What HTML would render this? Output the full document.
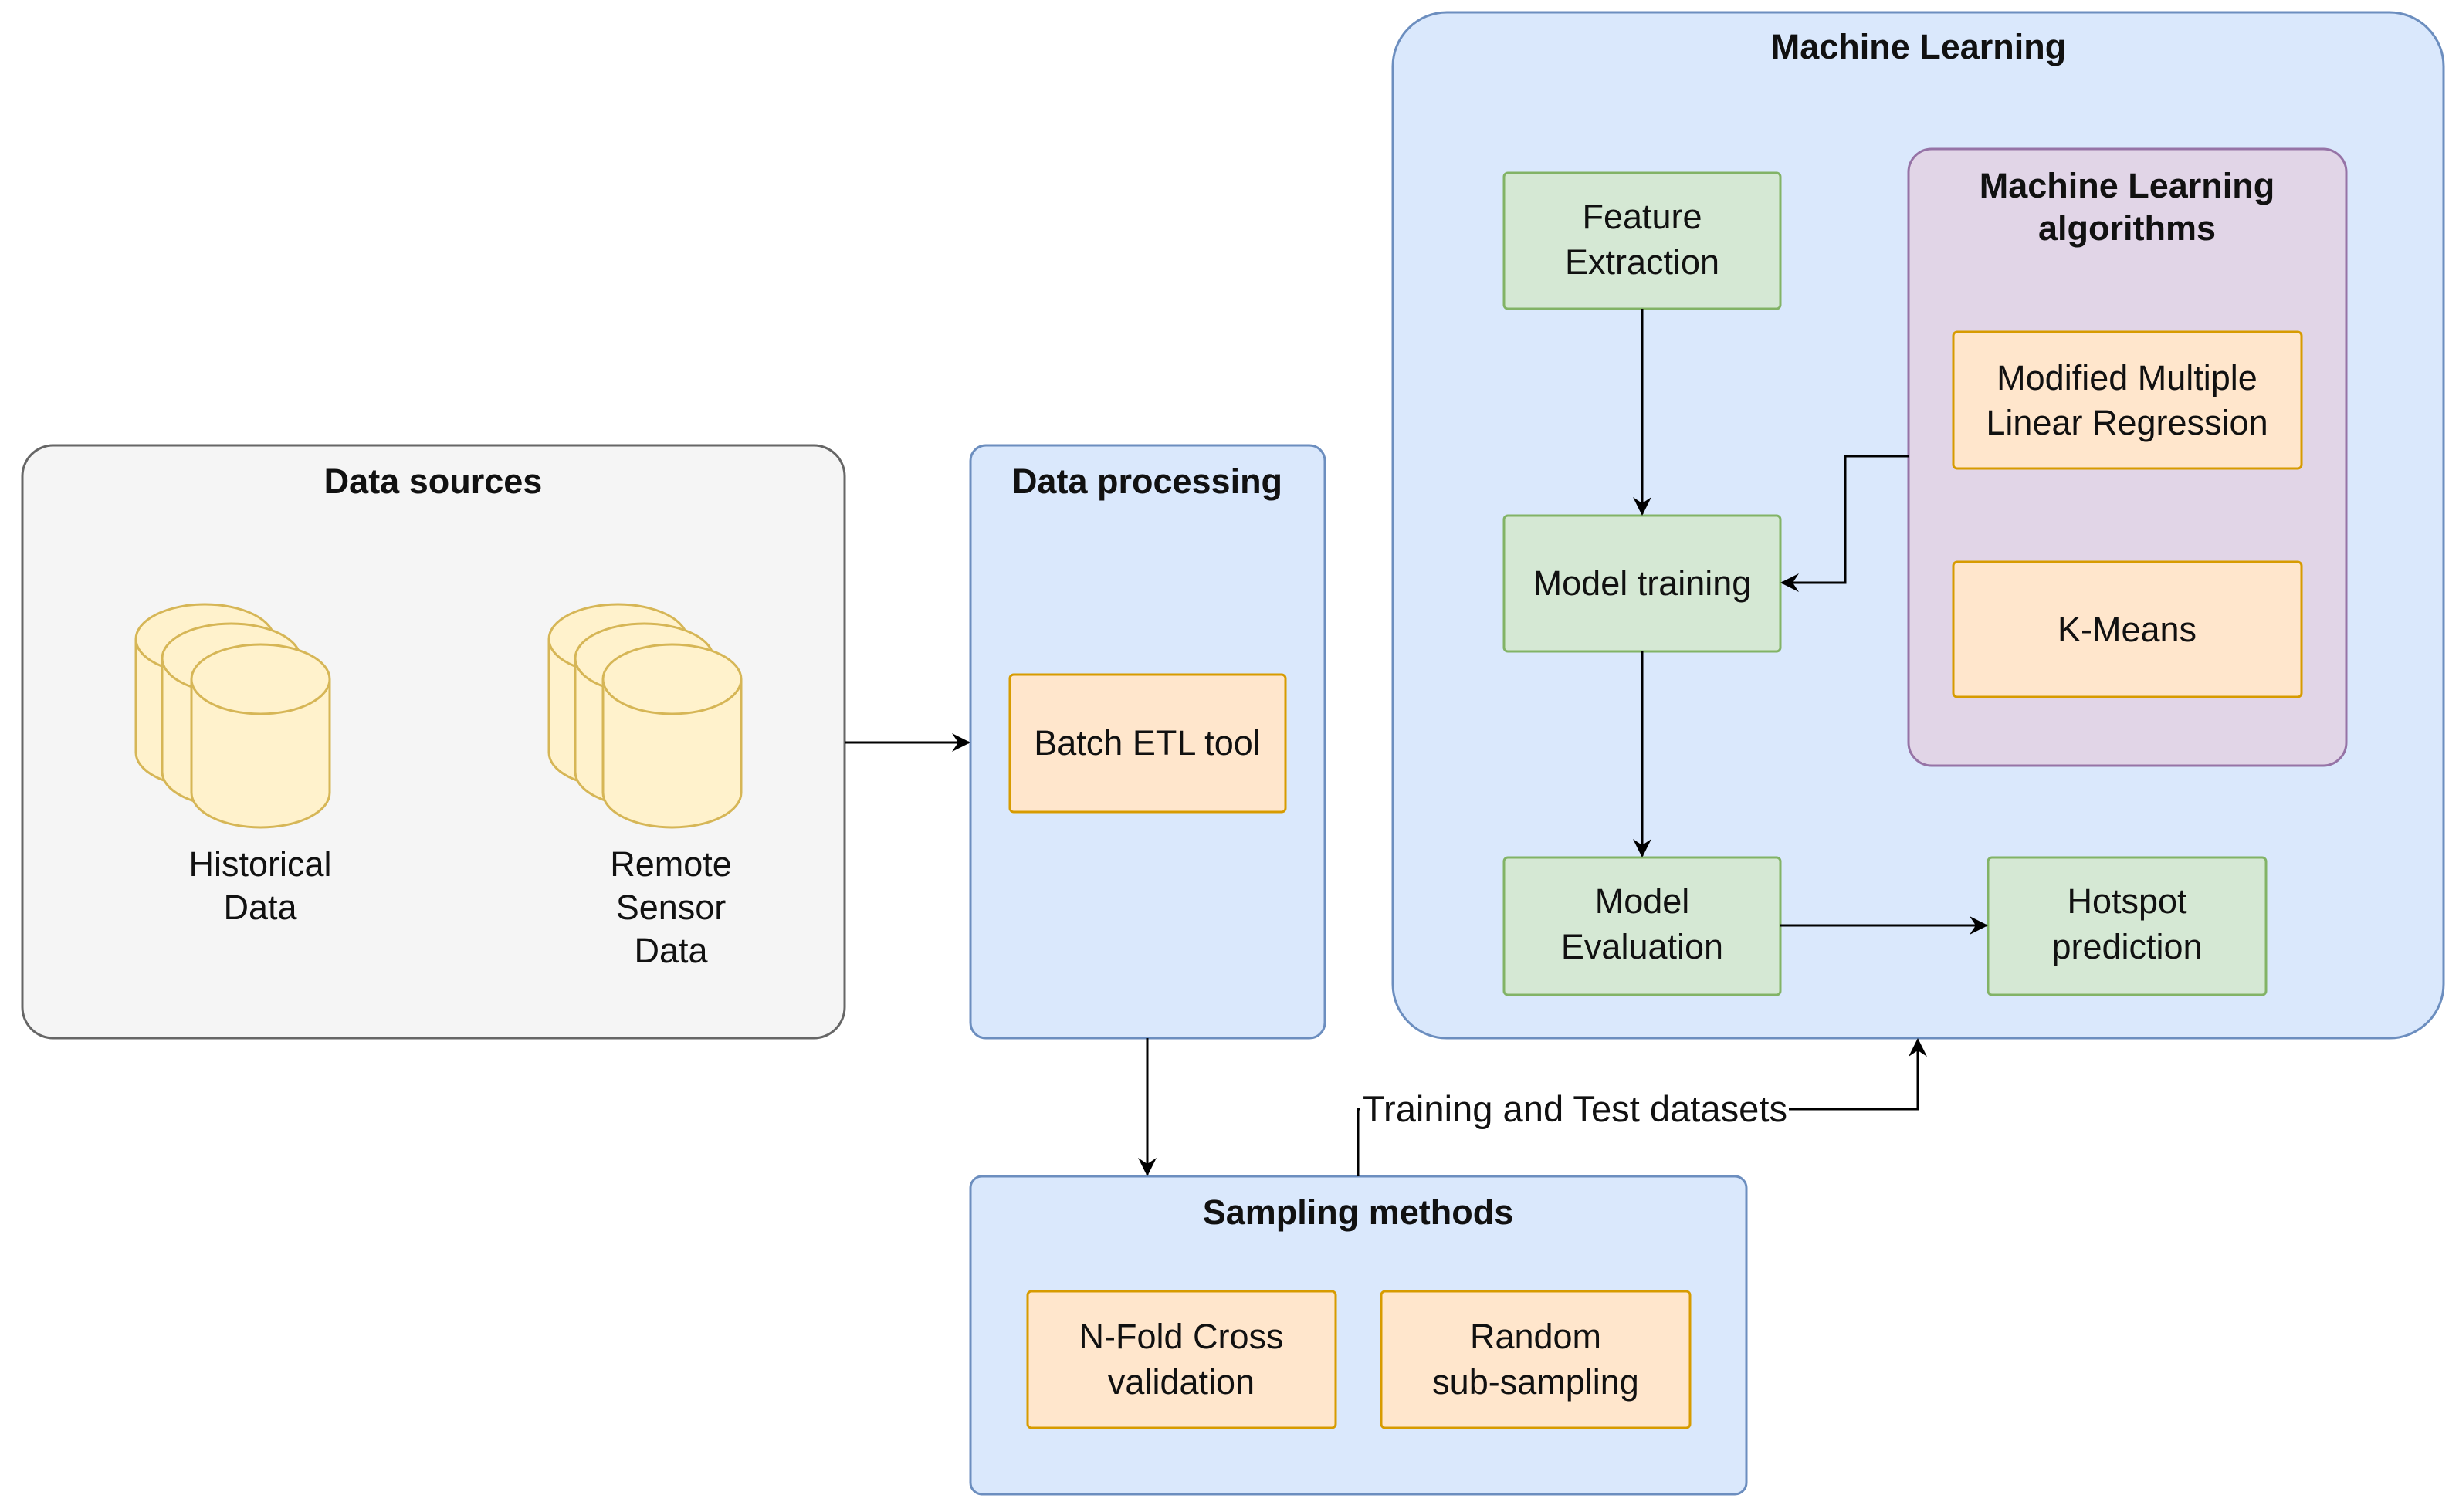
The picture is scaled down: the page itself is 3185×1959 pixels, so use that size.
<!DOCTYPE html>
<html><head><meta charset="utf-8"><style>html,body{margin:0;padding:0;background:#fff}svg{display:block}text{font-family:"Liberation Sans",Arial,sans-serif;fill:#111}</style></head>
<body>
<svg width="3185" height="1959" viewBox="0 0 3185 1959" xmlns="http://www.w3.org/2000/svg">
<defs>
<marker id="ar2" viewBox="0 0 12 12" markerWidth="24" markerHeight="24" refX="11" refY="6" orient="auto" markerUnits="userSpaceOnUse"><path d="M0,0 L12,6 L0,12 L4,6 Z" fill="#000"/></marker>
<g id="cyl">
<path d="M0,45 L0,192 A89.5,45 0 0 0 179,192 L179,45" fill="#fff2cc" stroke="#d6b656" stroke-width="3"/>
<ellipse cx="89.5" cy="45" rx="89.5" ry="45" fill="#fff2cc" stroke="#d6b656" stroke-width="3"/>
</g>
</defs>

<!-- Data sources -->
<rect x="29" y="577" width="1065" height="768" rx="40" fill="#f5f5f5" stroke="#666" stroke-width="3"/>
<text x="561" y="639" font-size="45" font-weight="bold" text-anchor="middle" fill="#333">Data sources</text>
<use href="#cyl" x="176" y="783"/><use href="#cyl" x="210" y="808"/><use href="#cyl" x="248" y="835"/>
<use href="#cyl" x="711" y="783"/><use href="#cyl" x="745" y="808"/><use href="#cyl" x="781" y="835"/>
<g font-size="45" text-anchor="middle">
<text x="337" y="1135">Historical</text><text x="337" y="1191">Data</text>
<text x="869" y="1135">Remote</text><text x="869" y="1191">Sensor</text><text x="869" y="1247">Data</text>
</g>

<!-- Data processing -->
<rect x="1257" y="577" width="459" height="768" rx="20" fill="#dae8fc" stroke="#6c8ebf" stroke-width="3"/>
<text x="1486" y="639" font-size="45" font-weight="bold" text-anchor="middle">Data processing</text>
<rect x="1308" y="874" width="357" height="178" rx="5" fill="#ffe6cc" stroke="#d79b00" stroke-width="3"/>
<text x="1486" y="978" font-size="45" text-anchor="middle">Batch ETL tool</text>
<line x1="1094" y1="962" x2="1255" y2="962" stroke="#000" stroke-width="3" marker-end="url(#ar2)"/>

<!-- Machine Learning -->
<rect x="1804" y="16" width="1361" height="1329" rx="70" fill="#dae8fc" stroke="#6c8ebf" stroke-width="3"/>
<text x="2485" y="76" font-size="45" font-weight="bold" text-anchor="middle">Machine Learning</text>
<rect x="2472" y="193" width="567" height="799" rx="30" fill="#e1d5e7" stroke="#9673a6" stroke-width="3"/>
<text x="2755" y="256" font-size="45" font-weight="bold" text-anchor="middle">Machine Learning</text>
<text x="2755" y="311" font-size="45" font-weight="bold" text-anchor="middle">algorithms</text>
<rect x="2530" y="430" width="451" height="177" rx="5" fill="#ffe6cc" stroke="#d79b00" stroke-width="3"/>
<text x="2755" y="505" font-size="45" text-anchor="middle">Modified Multiple</text>
<text x="2755" y="563" font-size="45" text-anchor="middle">Linear Regression</text>
<rect x="2530" y="728" width="451" height="175" rx="5" fill="#ffe6cc" stroke="#d79b00" stroke-width="3"/>
<text x="2755" y="831" font-size="45" text-anchor="middle">K-Means</text>

<g fill="#d5e8d4" stroke="#82b366" stroke-width="3">
<rect x="1948" y="224" width="358" height="176" rx="5"/>
<rect x="1948" y="668" width="358" height="176" rx="5"/>
<rect x="1948" y="1111" width="358" height="178" rx="5"/>
<rect x="2575" y="1111" width="360" height="178" rx="5"/>
</g>
<g font-size="45" text-anchor="middle">
<text x="2127" y="296">Feature</text><text x="2127" y="355">Extraction</text>
<text x="2127" y="771">Model training</text>
<text x="2127" y="1183">Model</text><text x="2127" y="1242">Evaluation</text>
<text x="2755" y="1183">Hotspot</text><text x="2755" y="1242">prediction</text>
</g>
<g stroke="#000" stroke-width="3" fill="none">
<line x1="2127" y1="400" x2="2127" y2="666" marker-end="url(#ar2)"/>
<line x1="2127" y1="844" x2="2127" y2="1109" marker-end="url(#ar2)"/>
<line x1="2306" y1="1199" x2="2573" y2="1199" marker-end="url(#ar2)"/>
<polyline points="2472,591 2390,591 2390,755 2308,755" marker-end="url(#ar2)"/>
</g>

<!-- Sampling -->
<rect x="1257" y="1524" width="1005" height="412" rx="15" fill="#dae8fc" stroke="#6c8ebf" stroke-width="3"/>
<text x="1759" y="1586" font-size="45" font-weight="bold" text-anchor="middle">Sampling methods</text>
<rect x="1331" y="1673" width="399" height="177" rx="5" fill="#ffe6cc" stroke="#d79b00" stroke-width="3"/>
<rect x="1789" y="1673" width="400" height="177" rx="5" fill="#ffe6cc" stroke="#d79b00" stroke-width="3"/>
<g font-size="45" text-anchor="middle">
<text x="1530" y="1747">N-Fold Cross</text><text x="1530" y="1806">validation</text>
<text x="1989" y="1747">Random</text><text x="1989" y="1806">sub-sampling</text>
</g>
<g stroke="#000" stroke-width="3" fill="none">
<line x1="1486" y1="1345" x2="1486" y2="1522" marker-end="url(#ar2)"/>
<polyline points="1759,1524 1759,1437 2484,1437 2484,1347" marker-end="url(#ar2)"/>
</g>
<rect x="1762" y="1410" width="555" height="52" fill="#fff"/>
<text x="1765" y="1453" font-size="47" textLength="550" lengthAdjust="spacingAndGlyphs">Training and Test datasets</text>
</svg>
</body></html>
